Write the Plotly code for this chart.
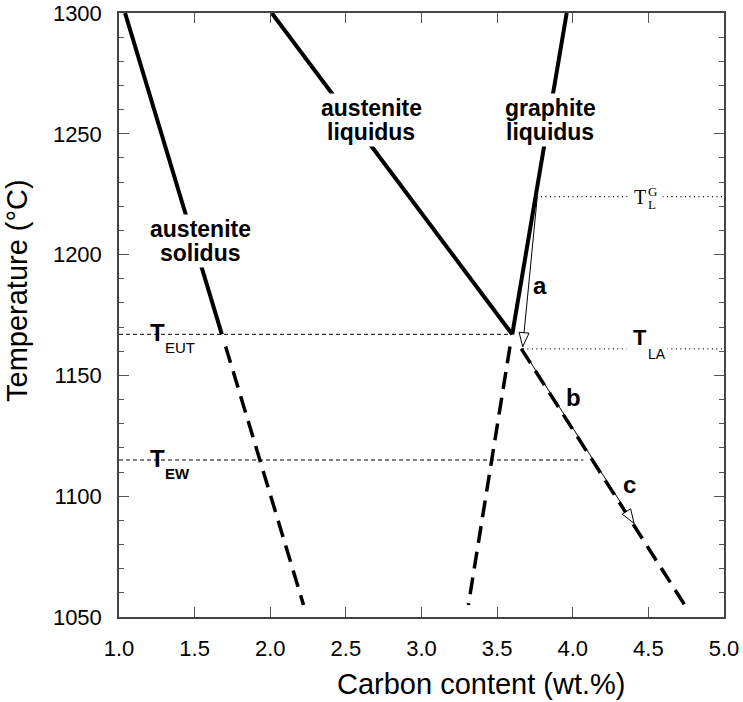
import numpy as np
import plotly.graph_objects as go

# ---------------- data ----------------
X_RANGE = [1.0, 5.0]
T_RANGE = [1050, 1300]
x_ticks = [1.0, 1.5, 2.0, 2.5, 3.0, 3.5, 4.0, 4.5, 5.0]
x_ticklabels = ["1.0", "1.5", "2.0", "2.5", "3.0", "3.5", "4.0", "4.5", "5.0"]
T_ticks = [1050, 1100, 1150, 1200, 1250, 1300]

# solid phase-boundary lines
solidus_x = [1.04, 1.68]
solidus_T = [1300, 1167]
aus_liq_x = [2.01, 3.60]
aus_liq_T = [1300, 1167]
gr_liq_x = [3.60, 3.96]
gr_liq_T = [1167, 1300]

# dashed (metastable) extensions
solidus_ext_x = [1.705, 2.22]
solidus_ext_T = [1162, 1055]
gr_ext_x = [3.585, 3.31]
gr_ext_T = [1162, 1055]
aus_ext_x = [3.66, 4.74]
aus_ext_T = [1161, 1055]

# characteristic temperatures
T_EUT = 1167
T_EW = 1115
T_LA = 1161
T_LG = 1224
teut_x = [1.0, 3.60]
tew_x = [1.0, 4.07]
tla_x = [3.67, 5.0]
tlg_x = [3.76, 5.0]

# solidification path arrows
arrow_a_x = [3.766, 3.669]
arrow_a_T = [1224.3, 1161.9]
arrow_bc_x = [3.662, 4.405]
arrow_bc_T = [1161.2, 1088.8]

# ---------------- page geometry ----------------
W, H = 743, 702
PL, PR, PT, PB = 119, 724, 13, 617
ML, MT = PL, PT
MR = W - PR
MB = H - PB
PW = PR - PL
PH = PB - PT
sx = PW / (X_RANGE[1] - X_RANGE[0])
sy = PH / (T_RANGE[1] - T_RANGE[0])

FONT = "Liberation Sans, Arial, sans-serif"
SERIF = "Liberation Serif, Times New Roman, serif"

fig = go.Figure()


def line(x, y, width=4, dash="solid", color="black"):
    fig.add_trace(go.Scatter(x=x, y=y, mode="lines",
                             line=dict(color=color, width=width, dash=dash),
                             hoverinfo="skip"))


# main curves
line(solidus_x, solidus_T, 4)
line(aus_liq_x, aus_liq_T, 4)
line(gr_liq_x, gr_liq_T, 4)
line(solidus_ext_x, solidus_ext_T, 3.5, "17px,9px")
line(gr_ext_x, gr_ext_T, 3.5, "17px,9px")
line(aus_ext_x, aus_ext_T, 3.5, "17px,9px")

# horizontal temperature lines
line(teut_x, [T_EUT, T_EUT], 1, "4px,3px")
line(tew_x, [T_EW, T_EW], 1, "4px,3px")
line(tla_x, [T_LA, T_LA], 1.2, "1px,3.5px")
line(tlg_x, [T_LG, T_LG], 1.2, "1px,3.5px")


def arrow(xs, ts, L=14, Wd=5):
    x0, x1 = xs
    t0, t1 = ts
    line([x0, x1], [t0, t1], 1)
    dx = (x1 - x0) * sx
    dy = (t1 - t0) * sy
    n = np.hypot(dx, dy)
    ux, uy = dx / n, dy / n
    tipx, tipy = x1 * sx, t1 * sy
    bx, by = tipx - L * ux, tipy - L * uy
    px, py = -uy, ux
    hx = np.array([tipx, bx + Wd * px, bx - Wd * px, tipx]) / sx
    hy = np.array([tipy, by + Wd * py, by - Wd * py, tipy]) / sy
    fig.add_trace(go.Scatter(x=hx, y=hy, mode="lines", fill="toself",
                             fillcolor="white",
                             line=dict(color="black", width=1),
                             hoverinfo="skip"))


arrow(arrow_a_x, arrow_a_T)
arrow(arrow_bc_x, arrow_bc_T)


def px2x(p):
    return X_RANGE[0] + (p - PL) / sx


def py2T(p):
    return T_RANGE[1] - (p - PT) / sy


def mask(px, py, w, h):
    """white box (no text) hiding the curves behind a label"""
    fig.add_annotation(x=px2x(px), y=py2T(py), xref="x", yref="y", text=" ",
                       showarrow=False, xanchor="center", yanchor="middle",
                       width=w, height=h, bgcolor="white", borderpad=0,
                       font=dict(size=2))


def label(text, px, py, size, bold=True, family=FONT, xanchor="center", pad=0):
    fig.add_annotation(x=px2x(px), y=py2T(py), xref="x", yref="y",
                       text=("<b>%s</b>" % text) if bold else text,
                       showarrow=False, xanchor=xanchor, yanchor="middle",
                       font=dict(family=family, size=size, color="black"),
                       borderpad=pad)


# masks behind labels
mask(371, 120, 106, 52)
mask(550, 120, 96, 52)
mask(200, 241, 106, 52)
mask(647, 345, 40, 34)
mask(645, 198, 34, 24)

# curve names
curve_labels = [("austenite", 371, 108), ("liquidus", 371, 132),
                ("graphite", 550, 108), ("liquidus", 550, 132),
                ("austenite", 200, 229), ("solidus", 200, 253)]
for t, px, py in curve_labels:
    label(t, px, py, 23)

# path letters
label("a", 540, 285, 24)
label("b", 573, 397, 24)
label("c", 629, 484, 24)

# temperature labels
label("T", 157, 332, 24)
label("EUT", 164, 347, 15, bold=False, xanchor="left")
label("T", 157, 458, 24)
label("EW", 164, 473, 15, bold=True, xanchor="left")
label("T", 640, 337, 22)
label("LA", 647, 354, 14, bold=False, xanchor="left")
label("T", 640, 197, 20, bold=False, family=SERIF)
label("L", 647, 204, 13, bold=False, family=SERIF, xanchor="left")
label("G", 647, 191, 13, bold=False, family=SERIF, xanchor="left")

# axis titles (placed in page pixels)
fig.add_annotation(x=(481 - PL) / PW, y=(PB - 684) / PH, xref="paper", yref="paper",
                   xanchor="center", yanchor="middle",
                   text="Carbon content (wt.%)", showarrow=False,
                   font=dict(family=FONT, size=29, color="black"))
fig.add_annotation(x=(17 - PL) / PW, y=(PB - 291) / PH, xref="paper", yref="paper",
                   xanchor="center", yanchor="middle",
                   text="Temperature (°C)", showarrow=False, textangle=-90,
                   font=dict(family=FONT, size=29, color="black"))

axis_common = dict(showgrid=False, zeroline=False, showline=True, linecolor="#444",
                   linewidth=1.5, ticks="inside", tickcolor="#555", tickwidth=1.2,
                   mirror="ticks", automargin=False, ticklabeloverflow="allow",
                   tickfont=dict(family=FONT, size=22, color="black"))

fig.update_xaxes(range=X_RANGE, tickvals=x_ticks, ticktext=x_ticklabels, ticklen=10,
                 ticklabelstandoff=11, **axis_common)
fig.update_yaxes(range=T_RANGE, tickvals=T_ticks, ticklen=10, ticklabelstandoff=11,
                 minor=dict(dtick=10, ticklen=5, ticks="inside", tickcolor="#555", tickwidth=1.2),
                 **axis_common)

fig.update_layout(width=W, height=H, margin=dict(l=ML, r=MR, t=MT, b=MB, autoexpand=False),
                  paper_bgcolor="white", plot_bgcolor="white", showlegend=False,
                  hovermode=False)

# remove the default 8px page-body margin so the figure sits at the window corner
fig.write_html("out.html", config={"displayModeBar": False},
               post_script="document.body.style.margin='0';document.body.style.overflow='hidden';")
